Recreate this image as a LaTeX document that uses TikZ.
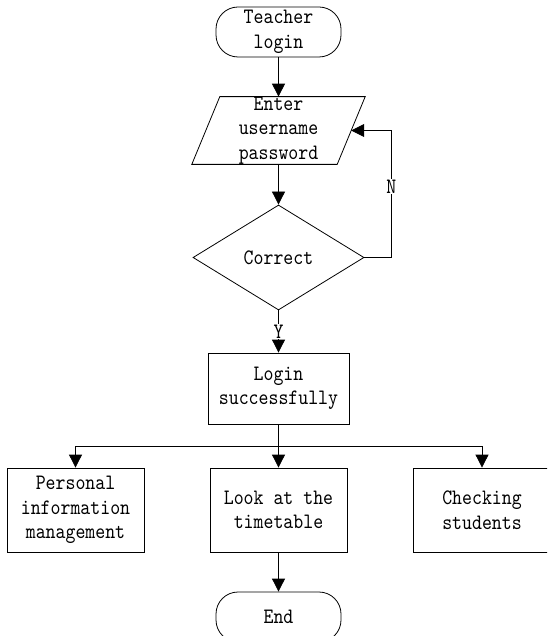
\documentclass[tikz,border=0pt]{standalone}
\usepackage{fontspec}
\setmonofont[FakeStretch=0.86]{lmmono10-regular.otf}
\usetikzlibrary{arrows.meta,shapes.geometric}
\begin{document}
\begin{tikzpicture}[x=1pt,y=-1pt,
  every node/.style={font=\fontsize{22}{24.5}\selectfont\ttfamily, align=center, inner sep=0pt},
  line/.style={draw=black, line width=0.8pt},
  arr/.style={line, -{Triangle[width=13pt,length=13pt]}},
  term/.style={line, rectangle, rounded corners=22pt, minimum width=125pt, minimum height=50pt},
  procbox/.style={line, rectangle, minimum width=137pt, minimum height=84pt},
  lbl/.style={fill=white, inner sep=1pt}]
\path[use as bounding box] (0,0) rectangle (547,636);
\clip (0,0) rectangle (547,636);
\node[term] (start) at (278.5,32) {Teacher\\login};
\node[minimum width=145pt, minimum height=61pt] (inp) at (278.5,130.5) {Enter\\username\\password};
\draw[line] ([xshift=14pt]inp.north west) -- ([xshift=14pt]inp.north east)
  -- ([xshift=-14pt]inp.south east) -- ([xshift=-14pt]inp.south west) -- cycle;
\node[line, diamond, minimum width=171pt, minimum height=105pt] (chk) at (278.5,257.5) {Correct};
\node[line, rectangle, minimum width=141pt, minimum height=71pt] (login) at (278.5,388.5) {Login\\successfully};
\node[procbox] (pim) at (75.5,510) {Personal\\information\\management};
\node[procbox] (tt) at (278.5,510) {Look at the\\timetable};
\node[procbox] (cs) at (482,510) {Checking\\students};
\node[term] (end) at (278.5,617) {End};
\coordinate (j) at (278.5,446);
\draw[arr] (start) -- (inp);
\draw[arr] (inp.south) -- (chk.north);
\draw[arr] (chk.east) -- ++(27,0) |- node[lbl, pos=0.28] {N} (inp.east);
\draw[arr] (chk.south) -- node[lbl] {Y} (login.north);
\draw[arr] (login.south) -- (tt.north);
\draw[arr] (j) -| (pim.north);
\draw[arr] (j) -| (cs.north);
\draw[arr] (tt.south) -- (end.north);
\end{tikzpicture}
\end{document}
